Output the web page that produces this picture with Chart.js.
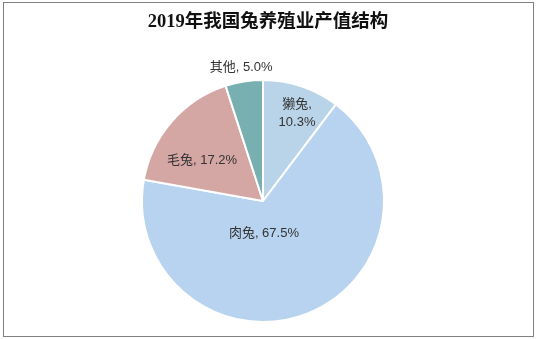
<!DOCTYPE html>
<html lang="zh">
<head>
<meta charset="UTF-8">
<title>2019年我国兔养殖业产值结构</title>
<script src="https://cdn.jsdelivr.net/npm/chart.js"></script>
<style>
    html, body { margin: 0; padding: 0; background: #fff; }
    #wrap {
        position: relative;
        width: 537px;
        height: 339px;
    }
    #frame {
        position: absolute;
        left: 3px; top: 2px;
        width: 529px; height: 333px;
        border: 1px solid #808080;
        pointer-events: none;
    }
    canvas { position: absolute; left: 0; top: 0; }
</style>
</head>
<body>
<div id="wrap">
    <canvas id="pie" width="537" height="339"></canvas>
    <div id="frame"></div>
</div>
<script>
// data
var titleText = '2019年我国兔养殖业产值结构';
var categories = ['獭兔', '肉兔', '毛兔', '其他'];
var shares = [10.3, 67.5, 17.2, 5.0];
var sliceColors = ['#B9D4E8', '#B7D3F0', '#D4A6A4', '#78AFB0'];

// label placement: fraction of radius from center, extra pixel shift, line break
var labelRadius = [0.78, 0.27, 0.70, 1.15];
var labelShift = [[4, 2], [-11, 2], [3, 15], [0, 4]];
var labelSplit = [true, false, false, false];

var labelFont = '13px "Liberation Sans", Arial, "Noto Sans CJK SC", sans-serif';

var pieLabels = {
    id: 'pieLabels',
    afterDatasetsDraw: function (chart) {
        var ctx = chart.ctx;
        var arcs = chart.getDatasetMeta(0).data;
        ctx.save();
        ctx.font = labelFont;
        ctx.fillStyle = '#333333';
        ctx.textAlign = 'center';
        ctx.textBaseline = 'middle';
        arcs.forEach(function (arc, i) {
            var p = arc.getProps(['x', 'y', 'startAngle', 'endAngle', 'outerRadius'], true);
            var mid = (p.startAngle + p.endAngle) / 2;
            var r = p.outerRadius * labelRadius[i];
            var x = p.x + Math.cos(mid) * r + labelShift[i][0];
            var y = p.y + Math.sin(mid) * r + labelShift[i][1];
            var val = shares[i].toFixed(1) + '%';
            if (labelSplit[i]) {
                ctx.fillText(categories[i] + ',', x, y - 9);
                ctx.fillText(val, x, y + 9);
            } else {
                ctx.fillText(categories[i] + ', ' + val, x, y);
            }
        });
        // title
        ctx.font = 'bold 18.5px "Liberation Serif", "Times New Roman", "Noto Sans CJK SC", serif';
        ctx.fillStyle = '#111111';
        ctx.fillText(titleText, 268, 22);
        ctx.restore();
    }
};

new Chart(document.getElementById('pie').getContext('2d'), {
    type: 'pie',
    data: {
        labels: categories,
        datasets: [{
            data: shares,
            backgroundColor: sliceColors,
            borderColor: '#ffffff',
            borderWidth: 2
        }]
    },
    options: {
        responsive: false,
        animation: false,
        layout: { padding: { top: 79, bottom: 16, left: 20, right: 31 } },
        plugins: {
            legend: { display: false },
            tooltip: { enabled: false },
            title: { display: false }
        }
    },
    plugins: [pieLabels]
});
</script>
</body>
</html>
